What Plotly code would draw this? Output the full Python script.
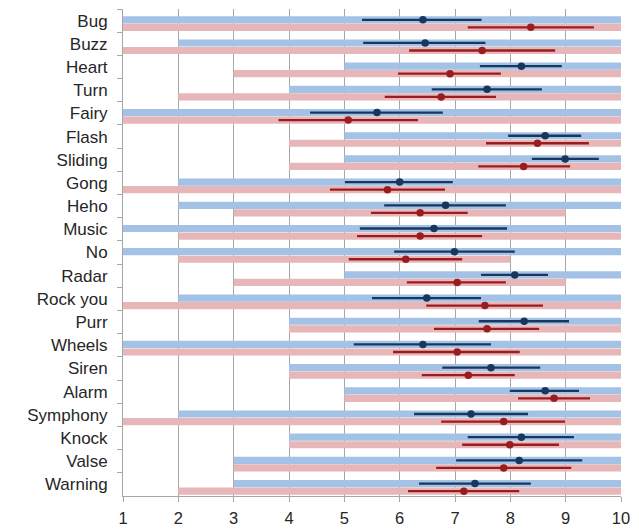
import plotly.graph_objects as go

categories = ["Bug", "Buzz", "Heart", "Turn", "Fairy", "Flash", "Sliding", "Gong", "Heho",
              "Music", "No", "Radar", "Rock you", "Purr", "Wheels", "Siren", "Alarm",
              "Symphony", "Knock", "Valse", "Warning"]

blue_min = [1, 2, 5, 4, 1, 5, 5, 2, 2, 1, 1, 5, 2, 4, 1, 4, 5, 2, 4, 3, 3]
blue_max = [10, 10, 10, 10, 10, 10, 10, 10, 10, 10, 10, 10, 10, 10, 10, 10, 10, 10, 10, 10, 10]
pink_min = [1, 1, 3, 2, 1, 4, 4, 1, 3, 2, 2, 3, 1, 4, 1, 4, 5, 1, 4, 3, 2]
pink_max = [10, 10, 10, 10, 10, 10, 10, 10, 9, 10, 8, 9, 10, 10, 10, 10, 10, 10, 10, 10, 10]

blue_mean = [6.42, 6.46, 8.20, 7.58, 5.59, 8.63, 8.99, 6.00, 6.83, 6.62, 6.99, 8.08, 6.49, 8.25,
             6.42, 7.65, 8.63, 7.29, 8.20, 8.16, 7.36]
blue_lo = [5.32, 5.34, 7.45, 6.58, 4.38, 7.96, 8.39, 5.01, 5.72, 5.28, 5.90, 7.47, 5.50, 7.43,
           5.17, 6.77, 7.99, 6.26, 7.23, 7.02, 6.35]
blue_hi = [7.48, 7.55, 8.93, 8.57, 6.78, 9.28, 9.60, 6.96, 7.92, 7.94, 8.08, 8.68, 7.47, 9.06,
           7.65, 8.54, 9.24, 8.32, 9.15, 9.30, 8.37]
red_mean = [8.37, 7.49, 6.91, 6.75, 5.07, 8.49, 8.24, 5.78, 6.37, 6.37, 6.11, 7.04, 7.54, 7.58,
            7.04, 7.24, 8.79, 7.88, 7.99, 7.88, 7.16]
red_lo = [7.23, 6.17, 5.97, 5.73, 3.81, 7.56, 7.42, 4.74, 5.48, 5.23, 5.08, 6.13, 6.48, 6.62,
          5.88, 6.40, 8.14, 6.75, 7.13, 6.66, 6.15]
red_hi = [9.51, 8.81, 7.83, 7.74, 6.33, 9.42, 9.08, 6.82, 7.23, 7.49, 7.13, 7.92, 8.59, 8.52,
          8.17, 8.08, 9.44, 8.99, 8.88, 9.10, 8.16]

BLUE_BAR = "#a3c2e6"
PINK_BAR = "#e6b6b8"
BLUE_PT = "#17375e"
RED_PT = "#9b1c1f"
GRID = "#a6a6a6"
TXT = "#262626"

BAR_W = 0.31
BLUE_OFF = -0.19
PINK_OFF = 0.135
blue_c = BLUE_OFF + BAR_W / 2
pink_c = PINK_OFF + BAR_W / 2

n = len(categories)
idx = list(range(n))

fig = go.Figure()
fig.add_trace(go.Bar(
    y=categories, x=[b - a for a, b in zip(blue_min, blue_max)], base=blue_min,
    orientation="h", marker=dict(color=BLUE_BAR, line=dict(width=0)),
    width=BAR_W, offset=BLUE_OFF, showlegend=False,
))
fig.add_trace(go.Bar(
    y=categories, x=[b - a for a, b in zip(pink_min, pink_max)], base=pink_min,
    orientation="h", marker=dict(color=PINK_BAR, line=dict(width=0)),
    width=BAR_W, offset=PINK_OFF, showlegend=False,
))

fig.add_trace(go.Scatter(
    x=blue_mean, y=[i + blue_c for i in idx], yaxis="y2", mode="markers",
    marker=dict(color=BLUE_PT, size=7.5, symbol="circle"),
    error_x=dict(type="data", symmetric=False,
                 array=[h - m for h, m in zip(blue_hi, blue_mean)],
                 arrayminus=[m - l for m, l in zip(blue_mean, blue_lo)],
                 color=BLUE_PT, thickness=2.3, width=0),
    showlegend=False,
))
fig.add_trace(go.Scatter(
    x=red_mean, y=[i + pink_c for i in idx], yaxis="y2", mode="markers",
    marker=dict(color=RED_PT, size=7.5, symbol="circle"),
    error_x=dict(type="data", symmetric=False,
                 array=[h - m for h, m in zip(red_hi, red_mean)],
                 arrayminus=[m - l for m, l in zip(red_mean, red_lo)],
                 color=RED_PT, thickness=2.3, width=0),
    showlegend=False,
))

# page body adds an 8px margin; figure is sized so the plot lands where the reference's does
fig.update_layout(
    width=631, height=521,
    margin=dict(l=115, r=18, t=1, b=33, autoexpand=False),
    paper_bgcolor="white", plot_bgcolor="white",
    font=dict(family="Liberation Sans, Arial, sans-serif", color=TXT, size=16),
    barmode="overlay",
    xaxis=dict(range=[1, 10], dtick=1, tick0=1, showgrid=True, gridcolor=GRID, gridwidth=1,
               showline=True, linecolor=GRID, linewidth=1, ticks="outside", ticklen=5,
               tickcolor=GRID, zeroline=False, ticklabelstandoff=2,
               tickfont=dict(size=16.5, color=TXT)),
    yaxis=dict(type="category", categoryorder="array", categoryarray=categories,
               range=[n - 0.5, -0.5], showgrid=False, showline=True, linecolor=GRID,
               linewidth=1, ticks="outside", tickson="boundaries", ticklen=5,
               tickcolor=GRID, zeroline=False, ticklabelstandoff=11,
               tickfont=dict(size=17, color=TXT)),
    yaxis2=dict(overlaying="y", range=[n - 0.5, -0.5], visible=False),
)

fig.write_html("out.html")
